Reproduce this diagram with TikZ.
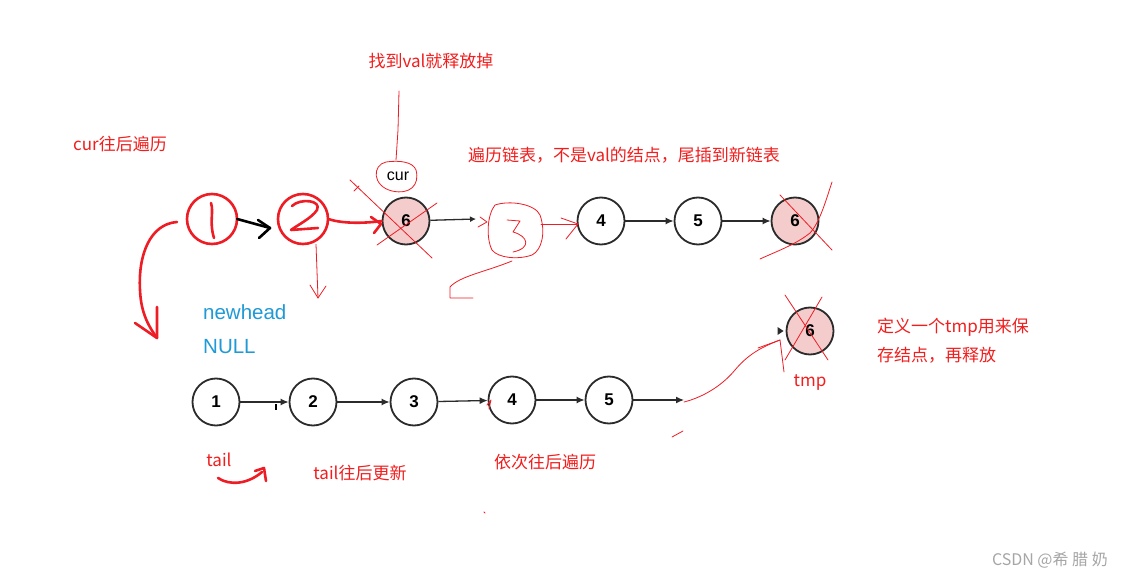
\documentclass[tikz,border=0pt]{standalone}
\usepackage{fontspec}
\setmainfont{Liberation Sans}
\newfontfamily\cjk{Noto Sans CJK SC}
\usetikzlibrary{arrows.meta}
\definecolor{hred}{HTML}{EE1C24}
\definecolor{tred}{HTML}{F21E1E}
\definecolor{nblue}{HTML}{1F9AD6}
\definecolor{pinkfill}{HTML}{F4CCCC}
\definecolor{ncol}{HTML}{2B2B2B}
\tikzset{
  lnode/.style={circle,draw=ncol,line width=1.8pt,minimum size=47pt,inner sep=0pt,font=\bfseries\fontsize{17}{17}\selectfont,fill=white},
  dnode/.style={lnode,fill=pinkfill},
  larrow/.style={draw=ncol,line width=1.3pt,-{Latex[length=8pt,width=7pt]}},
  hand/.style={draw=hred,line width=2.6pt,line cap=round,line join=round},
  thin/.style={draw=hred,line width=0.8pt,line cap=round,line join=round},
  rlabel/.style={text=tred,font=\cjk\fontsize{17}{20}\selectfont,inner sep=0pt},
  blabel/.style={text=nblue,font=\fontsize{20.5}{22}\selectfont,inner sep=0pt},
}
\begin{document}
\begin{tikzpicture}[x=1pt,y=-1pt]
\useasboundingbox (0,0) rectangle (1122,577);
\fill[white] (0,0) rectangle (1122,577);

% ---- top row ----
\node[dnode] (t6) at (406,221) {6};
\coordinate (t6e) at (476,219);
\draw[larrow,-{Latex[length=6pt,width=6pt]}] (t6) -- (t6e);
\node[lnode] (t4) at (601,221) {4};
\node[lnode] (t5) at (698,221) {5};
\node[dnode] (t6b) at (795,221) {6};
\draw[larrow] (t4) -- (t5);
\draw[larrow] (t5) -- (t6b);

% hand-drawn circles 1 and 2
\draw[hand] (212,219) circle[radius=25];
\node[circle,minimum size=50pt,inner sep=0pt] (h1) at (212,219) {};
\draw[hand] (211,203) .. controls (214,212) and (209,222) .. (214,238);
\draw[hand] (303,219) circle[radius=25];
\node[circle,minimum size=50pt,inner sep=0pt] (h2) at (303,219) {};
\draw[hand] (292,206) .. controls (300,198) and (322,200) .. (317,210) .. controls (312,218) and (296,226) .. (291,230) -- (318,228);
% black arrow 1 -> 2
\draw[line width=2.6pt,line cap=round,line join=round] (h1.east) -- (270,228);
\draw[line width=2.6pt,line cap=round,line join=round] (258,220) -- (270,228) -- (259,238);
% red arrow 2 -> 6
\draw[hand] (h2.east) .. controls (340,223) and (360,224) .. (t6.west);
\draw[hand] (371,217) -- (381,224) -- (374,233);

% crosses on top 6
\draw[thin] (350,180) -- (432,258);
\draw[thin] (437,203) -- (377,245);
\draw[thin] (354,191) -- (359,186);
% crosses on right 6
\draw[thin] (780,195) -- (832,250);
\draw[thin] (832,182) .. controls (826,200) and (820,222) .. (810,233) .. controls (795,245) and (775,252) .. (760,259);

% cur label with ellipse and line
\node[font=\fontsize{16}{16}\selectfont,inner sep=0pt] (cur) at (398,176) {cur};
\draw[thin] (386,162) .. controls (372,165) and (372,186) .. (392,191) .. controls (410,195) and (420,185) .. (416,170) .. controls (413,162) and (400,160) .. (386,162);
\coordinate (vtop) at (399,91);
\draw[thin] (vtop) -- (398,130) -- (396,160);
\node[rlabel] (l1) at (431,61) {找到val就释放掉};
\node[rlabel] (l2) at (624,155) {遍历链表，不是val的结点，尾插到新链表};
\node[rlabel] (l3) at (120,144) {cur往后遍历};

% hand-drawn 3
\draw[thin] (495,205) .. controls (510,200) and (535,204) .. (540,215) .. controls (546,232) and (542,250) .. (532,255) .. controls (518,260) and (498,258) .. (492,250) .. controls (486,238) and (487,215) .. (495,205);
\coordinate (c3) at (515,232);
\draw[thin] (507,220) -- (520,221) -- (513,232) .. controls (528,236) and (532,248) .. (513,252);
\draw[thin] (480,217) -- (487,222) -- (478,227);
\draw[thin] (541,224) -- (578,224);
\draw[thin] (561,218) -- (578,224) -- (566,239);
% line from 3 down-left
\draw[thin] (512,261) .. controls (485,272) and (460,276) .. (450,287) -- (450,298) -- (473,298);
% arrow from 2 down
\draw[thin] (h2.south) ++(13,0) coordinate (h2s) -- (318,298);
\draw[thin] (310,285) -- (318,298) -- (326,286);

% big curved arrow left
\draw[hand] (177,222) .. controls (150,224) and (138,255) .. (140,290) .. controls (141,315) and (150,328) .. (157,338);
\draw[hand] (157,307) -- (157,338) -- (135,323);

% newhead NULL
\node[blabel,anchor=west] (nh) at (203,312) {newhead};
\node[blabel,anchor=west] (nl) at (203,347) {NULL};

% ---- bottom row ----
\node[lnode] (b1) at (216,402) {1};
\node[lnode] (b2) at (313,402) {2};
\node[lnode] (b3) at (414,402) {3};
\node[lnode] (b4) at (512,400) {4};
\node[lnode] (b5) at (609,400) {5};
\draw[larrow] (b1) -- (b2);
\draw[larrow] (b2) -- (b3);
\draw[larrow] (b3) -- (b4);
\draw[larrow] (b4) -- (b5);
\coordinate (b5e) at (684,400);
\draw[larrow] (b5) -- (b5e);
\draw[line width=1.5pt] (276,404) -- (276,410);

% tmp node
\node[dnode] (tmp) at (810,331) {6};
\draw[fill=ncol,draw=none] (tmp.west) ++(-2,0) -- ++(-6,-4) -- ++(0,8) -- cycle;
\draw[thin] (785,295) -- (828,360);
\draw[thin] (822,297) -- (785,360);
\draw[thin] (b5e) ++(0,2) .. controls (700,398) and (720,388) .. (735,370) .. controls (750,352) and (765,346) .. (780,340);
\draw[thin] (758,348) -- (780,340) -- (784,372);
\draw[thin] (672,437) -- (683,431);
\draw[thin] (484,512) -- (485,513);
\draw[thin] (487,405) -- (491,400) -- (489,409);

\node[rlabel] (tl) at (810,383) {tmp};
\node[rlabel,anchor=west] (d1) at (877,327) {定义一个tmp用来保};
\node[rlabel,anchor=west] (d2) at (877,355) {存结点，再释放};

% tail
\node[rlabel] (tail) at (219,460) {tail};
\draw[hand] (218,478) .. controls (230,486) and (248,484) .. (262,472);
\draw[hand] (255,471) -- (264,468) -- (266,481);
\node[rlabel] (tu) at (360,473) {tail往后更新};
\node[rlabel] (yc) at (545,462) {依次往后遍历};

% watermark
\node[text=gray!70,font=\cjk\fontsize{16}{16}\selectfont,anchor=east,inner sep=0pt] (wm) at (1108,560) {CSDN @希 腊 奶};
\end{tikzpicture}
\end{document}
